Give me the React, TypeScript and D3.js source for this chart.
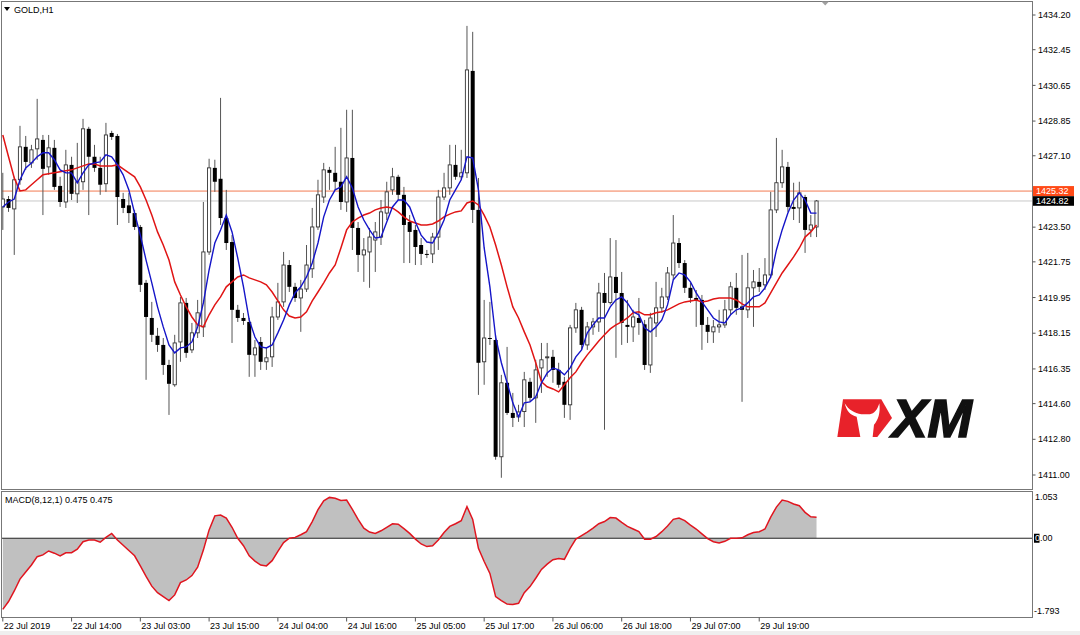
import React from 'react';
import * as d3 from 'd3';

// ---------- data ----------
const symbolLabel = 'GOLD,H1';
const macdLabel = 'MACD(8,12,1) 0.475 0.475';

const open = [
  1424.52, 1424.92, 1424.42, 1425.89, 1427.55, 1426.74, 1427.45, 1427.90, 1426.54, 1427.50,
  1425.58, 1424.77, 1426.64, 1425.18, 1425.79, 1428.46, 1427.05, 1426.49, 1425.69, 1428.25,
  1428.10, 1424.92, 1424.60, 1424.21, 1423.51, 1420.69, 1418.92, 1418.02, 1417.56, 1416.55,
  1415.55, 1417.71, 1419.68, 1417.31, 1418.17, 1418.47, 1422.25, 1426.49, 1425.94, 1423.96,
  1422.75, 1419.33, 1418.92, 1418.72, 1417.06, 1417.71, 1416.71, 1416.96, 1418.97, 1419.73,
  1421.59, 1420.49, 1419.93, 1420.38, 1421.40, 1423.51, 1425.02, 1426.39, 1426.24, 1425.79,
  1424.77, 1426.99, 1423.46, 1422.10, 1422.25, 1422.85, 1423.00, 1424.21, 1425.38, 1426.04,
  1425.13, 1423.76, 1423.36, 1422.60, 1422.15, 1422.15, 1423.00, 1425.02, 1425.48, 1426.64,
  1426.04, 1426.24, 1431.38, 1424.37, 1416.71, 1417.91, 1417.81, 1411.92, 1415.65, 1414.13,
  1413.93, 1414.20, 1415.70, 1414.89, 1416.40, 1416.91, 1416.96, 1416.30, 1415.70, 1414.54,
  1418.42, 1419.33, 1417.56, 1418.47, 1418.72, 1420.18, 1419.70, 1420.99, 1420.18, 1418.57,
  1418.47, 1418.92, 1418.60, 1416.55, 1418.67, 1419.43, 1419.98, 1421.09, 1422.70, 1421.69,
  1420.44, 1419.93, 1419.83, 1418.57, 1418.22, 1418.47, 1418.57, 1419.33, 1420.44, 1419.50,
  1419.33, 1420.44, 1420.74, 1420.59, 1421.09, 1424.37, 1425.74, 1426.54, 1424.52, 1424.47,
  1425.02, 1423.36, 1423.51,
];

const high = [
  1426.24, 1425.07, 1426.04, 1428.61, 1428.10, 1427.65, 1429.97, 1428.15, 1428.15, 1427.90,
  1426.04, 1427.40, 1427.05, 1427.75, 1428.96, 1428.56, 1427.65, 1427.05, 1428.76, 1428.36,
  1428.20, 1425.23, 1425.23, 1424.37, 1423.61, 1420.84, 1419.73, 1418.42, 1417.91, 1416.81,
  1418.07, 1419.98, 1419.93, 1418.67, 1419.83, 1424.77, 1426.95, 1426.90, 1430.02, 1425.38,
  1423.10, 1419.58, 1419.17, 1418.92, 1417.81, 1417.96, 1417.41, 1419.48, 1420.69, 1422.25,
  1421.84, 1420.69, 1420.84, 1422.60, 1424.47, 1425.89, 1426.74, 1426.54, 1427.55, 1428.51,
  1429.42, 1429.42, 1423.76, 1422.95, 1423.46, 1423.76, 1424.87, 1425.79, 1426.49, 1426.14,
  1425.53, 1424.11, 1423.61, 1422.95, 1422.35, 1423.21, 1425.38, 1426.24, 1427.65, 1427.65,
  1427.40, 1433.65, 1433.35, 1425.98, 1419.83, 1419.73, 1418.07, 1416.05, 1417.46, 1415.14,
  1414.54, 1416.20, 1415.90, 1416.81, 1417.66, 1417.66, 1417.31, 1416.66, 1415.95, 1418.57,
  1419.68, 1419.48, 1418.72, 1418.92, 1420.69, 1421.19, 1422.95, 1422.85, 1421.24, 1419.83,
  1419.33, 1419.93, 1418.82, 1419.18, 1420.74, 1420.44, 1421.49, 1424.11, 1422.95, 1421.84,
  1420.69, 1420.33, 1420.08, 1418.97, 1418.82, 1419.33, 1419.83, 1420.74, 1421.19, 1422.10,
  1422.20, 1421.34, 1421.44, 1421.94, 1425.28, 1428.00, 1427.40, 1426.79, 1425.74, 1425.79,
  1425.13, 1424.11, 1424.87,
];

const low = [
  1423.36, 1424.27, 1422.10, 1425.64, 1426.39, 1426.49, 1426.90, 1424.11, 1426.14, 1425.38,
  1424.52, 1424.47, 1424.87, 1424.72, 1425.38, 1424.11, 1426.29, 1425.13, 1425.28, 1427.90,
  1423.61, 1424.21, 1423.71, 1423.36, 1420.23, 1415.80, 1417.71, 1417.21, 1416.05, 1414.03,
  1415.45, 1416.71, 1416.91, 1417.15, 1417.91, 1417.96, 1422.10, 1425.28, 1423.61, 1422.35,
  1417.66, 1418.72, 1418.57, 1415.95, 1415.95, 1416.30, 1416.30, 1416.45, 1418.82, 1419.48,
  1420.23, 1419.73, 1418.22, 1420.23, 1420.94, 1423.36, 1424.72, 1425.38, 1425.38, 1424.37,
  1424.27, 1422.35, 1421.24, 1420.74, 1420.44, 1421.24, 1422.60, 1423.86, 1425.13, 1424.87,
  1421.69, 1421.69, 1421.59, 1421.59, 1421.94, 1421.69, 1422.35, 1424.87, 1425.13, 1425.89,
  1425.89, 1425.98, 1423.71, 1415.04, 1415.55, 1417.56, 1411.77, 1410.86, 1414.03, 1413.42,
  1413.68, 1413.42, 1414.69, 1413.63, 1415.14, 1415.95, 1415.65, 1415.40, 1413.88, 1413.78,
  1418.17, 1417.31, 1417.31, 1418.07, 1418.22, 1413.28, 1419.60, 1416.91, 1417.56, 1417.66,
  1417.71, 1418.07, 1416.30, 1416.15, 1417.96, 1419.18, 1419.83, 1420.84, 1421.44, 1420.18,
  1419.68, 1418.47, 1417.31, 1417.66, 1417.66, 1418.17, 1418.42, 1419.08, 1419.08, 1414.69,
  1418.92, 1418.47, 1420.23, 1420.33, 1420.94, 1424.21, 1425.48, 1424.27, 1423.86, 1423.71,
  1422.20, 1423.00, 1423.00,
];

const close = [
  1424.92, 1424.47, 1425.89, 1427.55, 1426.79, 1427.40, 1427.95, 1426.44, 1427.50, 1425.53,
  1424.77, 1426.64, 1425.18, 1425.79, 1428.46, 1427.05, 1426.49, 1425.64, 1428.15, 1428.05,
  1425.02, 1424.47, 1424.21, 1423.51, 1420.59, 1418.97, 1418.07, 1417.56, 1416.55, 1415.60,
  1417.66, 1419.68, 1417.16, 1418.17, 1419.18, 1422.25, 1426.49, 1425.79, 1423.96, 1422.70,
  1419.33, 1418.92, 1418.77, 1417.06, 1417.41, 1416.71, 1416.91, 1418.97, 1419.73, 1421.59,
  1420.49, 1419.93, 1420.38, 1421.59, 1423.51, 1425.13, 1426.39, 1426.24, 1425.79, 1424.77,
  1426.99, 1423.46, 1422.10, 1422.35, 1423.00, 1423.26, 1424.27, 1425.28, 1426.04, 1425.13,
  1423.61, 1423.26, 1422.50, 1422.15, 1422.10, 1423.00, 1425.02, 1425.48, 1426.64, 1426.04,
  1426.24, 1431.43, 1424.37, 1416.66, 1417.91, 1417.86, 1411.92, 1415.65, 1414.13, 1413.88,
  1414.18, 1415.80, 1414.89, 1416.30, 1416.81, 1416.96, 1416.30, 1415.55, 1414.54, 1418.42,
  1419.33, 1417.56, 1418.47, 1418.72, 1420.18, 1419.68, 1420.99, 1420.18, 1418.67, 1418.47,
  1418.97, 1418.67, 1416.55, 1418.92, 1419.43, 1419.98, 1421.19, 1422.70, 1421.69, 1420.44,
  1419.93, 1419.83, 1418.57, 1418.22, 1418.47, 1418.57, 1419.33, 1420.49, 1419.43, 1419.33,
  1420.44, 1420.74, 1420.49, 1421.09, 1424.37, 1425.74, 1426.54, 1424.52, 1424.42, 1425.23,
  1423.36, 1423.61, 1424.82,
];

const fastMA = [
  1424.52, 1424.77, 1424.92, 1425.89, 1426.49, 1426.74, 1427.05, 1427.25, 1427.25, 1426.90,
  1426.39, 1426.24, 1426.24, 1425.74, 1426.24, 1426.64, 1426.74, 1426.79, 1427.15, 1427.05,
  1426.64, 1426.14, 1425.38, 1424.21, 1423.10, 1421.84, 1420.69, 1419.48, 1418.47, 1417.56,
  1417.16, 1417.41, 1417.46, 1417.71, 1418.47, 1419.68, 1421.34, 1422.70, 1423.36, 1424.11,
  1423.26, 1421.94, 1420.49, 1418.82, 1417.96, 1417.46, 1417.41, 1417.56, 1418.17, 1418.82,
  1419.58, 1420.18, 1420.49, 1420.99, 1421.69, 1422.70, 1424.02, 1424.87, 1425.38, 1425.53,
  1426.04, 1425.48, 1424.52, 1423.86, 1423.36, 1422.95, 1423.00, 1423.76, 1424.52, 1424.87,
  1424.87, 1424.52, 1423.76, 1423.10, 1422.75, 1422.70, 1423.21, 1423.86, 1424.87, 1425.38,
  1425.89, 1427.05, 1426.99, 1425.38, 1422.45, 1420.49, 1417.96, 1416.66, 1415.65, 1414.64,
  1413.93, 1414.64, 1414.69, 1414.94, 1415.65, 1416.15, 1416.40, 1416.30, 1416.05, 1416.40,
  1416.96, 1417.31, 1418.17, 1418.57, 1418.92, 1418.92, 1419.48, 1419.83, 1419.98, 1419.68,
  1419.23, 1419.08, 1418.42, 1418.22, 1418.47, 1418.82, 1419.58, 1420.84, 1421.19, 1421.09,
  1420.74, 1420.18, 1419.73, 1419.33, 1418.92, 1418.72, 1418.67, 1419.08, 1419.33, 1419.43,
  1419.68, 1419.98, 1420.08, 1420.44, 1420.99, 1422.35, 1423.36, 1424.21, 1424.87, 1425.23,
  1424.87, 1424.21, 1424.21,
];

const slowMA = [
  1428.15, 1427.05, 1425.98, 1425.33, 1425.38, 1425.64, 1425.89, 1426.14, 1426.19, 1426.24,
  1426.29, 1426.34, 1426.39, 1426.49, 1426.59, 1426.69, 1426.69, 1426.59, 1426.59, 1426.59,
  1426.64, 1426.44, 1426.24, 1426.04, 1425.53, 1424.87, 1424.11, 1423.26, 1422.60, 1421.84,
  1420.74, 1420.08, 1419.48, 1418.97, 1418.57, 1418.47, 1419.08, 1419.58, 1419.98, 1420.49,
  1420.74, 1420.99, 1421.09, 1420.94, 1420.84, 1420.74, 1420.59, 1420.23, 1419.78, 1419.33,
  1419.02, 1418.92, 1418.97, 1419.23, 1419.78, 1420.23, 1420.69, 1421.19, 1421.59, 1422.45,
  1423.36, 1423.76, 1423.96, 1424.11, 1424.21, 1424.37, 1424.47, 1424.52, 1424.47, 1424.27,
  1424.02, 1423.81, 1423.71, 1423.61, 1423.61, 1423.66, 1423.81, 1424.02, 1424.16, 1424.27,
  1424.32, 1424.72, 1424.82, 1424.62, 1424.11, 1423.51, 1422.60, 1421.59, 1420.49, 1419.48,
  1418.92, 1418.22, 1417.56, 1416.66, 1415.70, 1415.45, 1415.34, 1415.19, 1415.55, 1415.90,
  1416.20, 1416.66, 1417.06, 1417.41, 1417.76, 1418.07, 1418.37, 1418.57, 1418.72, 1418.92,
  1419.18, 1419.23, 1419.08, 1419.08, 1419.18, 1419.23, 1419.33, 1419.48, 1419.63, 1419.73,
  1419.78, 1419.83, 1419.73, 1419.78, 1419.88, 1419.93, 1419.93, 1419.93, 1419.83, 1419.63,
  1419.48, 1419.48, 1419.48, 1419.68, 1420.18, 1420.69, 1421.19, 1421.59, 1422.00, 1422.45,
  1423.00, 1423.26, 1423.61,
];

const macd = [
  -1.62, -1.44, -1.20, -0.93, -0.77, -0.61, -0.42, -0.38, -0.29, -0.34,
  -0.40, -0.33, -0.33, -0.25, -0.08, -0.04, -0.04, -0.09, 0.02, 0.11,
  -0.04, -0.16, -0.28, -0.40, -0.63, -0.87, -1.09, -1.24, -1.33, -1.42,
  -1.29, -1.01, -0.95, -0.85, -0.66, -0.27, 0.19, 0.51, 0.53, 0.46,
  0.25, 0.00, -0.17, -0.40, -0.52, -0.61, -0.63, -0.51, -0.30, -0.10,
  0.00, 0.02, 0.08, 0.15, 0.38, 0.65, 0.85, 0.93, 0.91, 0.86,
  0.87, 0.66, 0.43, 0.23, 0.14, 0.11, 0.17, 0.25, 0.33, 0.32,
  0.22, 0.11, -0.02, -0.13, -0.19, -0.17, -0.04, 0.13, 0.27, 0.33,
  0.40, 0.72, 0.43, -0.23, -0.53, -0.80, -1.33, -1.42, -1.50, -1.51,
  -1.48, -1.24, -1.10, -0.91, -0.71, -0.59, -0.49, -0.46, -0.48, -0.23,
  -0.02, 0.06, 0.14, 0.23, 0.33, 0.38, 0.47, 0.46, 0.36, 0.27,
  0.21, 0.15, -0.02, -0.02, 0.04, 0.15, 0.28, 0.43, 0.46, 0.40,
  0.30, 0.21, 0.10, -0.01, -0.08, -0.11, -0.07, 0.00, 0.00, 0.01,
  0.08, 0.13, 0.15, 0.21, 0.48, 0.71, 0.87, 0.84, 0.78, 0.74,
  0.59, 0.49, 0.48,
];

const timeTickBars = [0, 12, 24, 36, 48, 60, 72, 84, 96, 108, 120, 132];
const timeTickLabels = [
  '22 Jul 2019', '22 Jul 14:00', '23 Jul 03:00', '23 Jul 15:00', '24 Jul 04:00', '24 Jul 16:00',
  '25 Jul 05:00', '25 Jul 17:00', '26 Jul 06:00', '26 Jul 18:00', '29 Jul 07:00', '29 Jul 19:00',
];

const priceTicks = [1434.2, 1432.45, 1430.65, 1428.85, 1427.1, 1423.5, 1421.75, 1419.95, 1418.15, 1416.35, 1414.6, 1412.8, 1411.0];
const askPrice = 1425.32;
const bidPrice = 1424.82;
const macdTicks = [1.053, 0, -1.793];
const macdTickLabels = ['1.053', '0.00', '-1.793'];

// ---------- component ----------
const FONT = '"Liberation Sans", Arial, sans-serif';
const BORDER = '#777777';

export default function App() {
  const L = 1.5, R = 1032.5, mainTop = 1.5, mainBottom = 489.5, macdTop = 491.5, macdBottom = 617.5;

  const x = d3.scaleLinear().domain([0, 179.6]).range([2.8, 1032]);
  const y = d3.scaleLinear().domain([1411.0, 1434.2]).range([475, 15]);
  const ym = d3.scaleLinear().domain([-1.793, 1.053]).range([617, 492]);
  const fmt = d3.format('.2f');

  const idx = d3.range(open.length);
  const mainLine = d3.line<number>().x((_, i) => x(i)).y((d) => y(d));
  const macdLine = d3.line<number>().x((_, i) => x(i)).y((d) => ym(d));
  const macdArea = d3.area<number>().x((_, i) => x(i)).y0(ym(0)).y1((d) => ym(d));

  return (
    <svg
      width={1080}
      height={635}
      style={{ position: 'absolute', left: 0, top: 0, display: 'block', background: '#ffffff' }}
      fontFamily={FONT}
    >
      <defs>
        <clipPath id="mainClip">
          <rect x={L} y={mainTop} width={R - L} height={mainBottom - mainTop} />
        </clipPath>
        <clipPath id="macdClip">
          <rect x={L} y={macdTop} width={R - L} height={macdBottom - macdTop} />
        </clipPath>
      </defs>

      <rect x={0} y={0} width={1080} height={635} fill="#ffffff" />
      <rect x={0} y={631} width={1080} height={4} fill="#efefef" />

      {/* ask / bid lines */}
      <line x1={L} x2={R} y1={y(askPrice)} y2={y(askPrice)} stroke="#f27a52" strokeWidth={1} />
      <line x1={L} x2={R} y1={y(bidPrice)} y2={y(bidPrice)} stroke="#c8c8c8" strokeWidth={1} />

      {/* logo */}
      <g transform="translate(828,392) scale(0.3333)">
        <polygon points="45,22 160,22 192,78 148,135 28,135" fill="#e8222a" />
        <path
          d="M50,34 C56,58 68,70 86,74 L97,135 L134,135 L138,98 C150,86 158,62 154,34 C147,56 139,64 126,67 L100,67 C80,64 62,54 50,34 Z"
          fill="#ffffff"
        />
      </g>
      <text
        x={892}
        y={437}
        fontFamily={FONT}
        fontWeight="bold"
        fontStyle="italic"
        fontSize={53}
        fill="#111111"
        stroke="#111111"
        strokeWidth={1.6}
        textLength={80}
        lengthAdjust="spacingAndGlyphs"
      >
        XM
      </text>

      {/* candles */}
      <g clipPath="url(#mainClip)">
        {idx.map((i) => {
          const cx = x(i);
          const o = open[i], c = close[i];
          const up = c >= o;
          const yTop = y(Math.max(o, c));
          const yBot = y(Math.min(o, c));
          return (
            <g key={i}>
              <line x1={cx} x2={cx} y1={y(high[i])} y2={y(low[i])} stroke="#555555" strokeWidth={1} />
              {up ? (
                <rect
                  x={cx - 1.6}
                  y={yTop}
                  width={3.2}
                  height={Math.max(0.8, yBot - yTop)}
                  fill="#ffffff"
                  stroke="#333333"
                  strokeWidth={0.9}
                />
              ) : (
                <rect x={cx - 2} y={yTop} width={4} height={Math.max(1, yBot - yTop)} fill="#000000" />
              )}
            </g>
          );
        })}
        <path d={mainLine(slowMA) || ''} fill="none" stroke="#e01515" strokeWidth={1.5} />
        <path d={mainLine(fastMA) || ''} fill="none" stroke="#1515c8" strokeWidth={1.4} />
      </g>

      {/* MACD panel */}
      <g clipPath="url(#macdClip)">
        <path d={macdArea(macd) || ''} fill="#c0c0c0" />
        <line x1={L} x2={R} y1={ym(0)} y2={ym(0)} stroke="#222222" strokeWidth={1} />
        <path d={macdLine(macd) || ''} fill="none" stroke="#e0151f" strokeWidth={1.5} />
      </g>

      {/* frames */}
      <rect x={L} y={mainTop} width={R - L} height={mainBottom - mainTop} fill="none" stroke={BORDER} strokeWidth={1} />
      <rect x={L} y={macdTop} width={R - L} height={macdBottom - macdTop} fill="none" stroke={BORDER} strokeWidth={1} />

      {/* chart shift marker */}
      <polygon points="821.5,1.5 829,1.5 825.2,5.5" fill="#a0a0a0" />

      {/* titles */}
      <polygon points="4,7 10,7 7,11" fill="#000000" />
      <text x={14} y={12.5} fontSize={9} fill="#000000">{symbolLabel}</text>
      <text x={5} y={503} fontSize={9} fill="#000000">{macdLabel}</text>

      {/* price axis */}
      {priceTicks.map((p) => (
        <g key={p}>
          <line x1={R} x2={R + 3} y1={y(p)} y2={y(p)} stroke="#555555" strokeWidth={1} />
          <text x={1038} y={y(p)} dy="0.35em" fontSize={9} fill="#000000">
            {fmt(p)}
          </text>
        </g>
      ))}
      <rect x={1033} y={y(askPrice) - 5} width={41} height={10} fill="#ff4a17" />
      <text x={1036} y={y(askPrice)} dy="0.35em" fontSize={9} fill="#ffffff">{fmt(askPrice)}</text>
      <rect x={1033} y={y(bidPrice) - 4.8} width={41} height={9.6} fill="#000000" />
      <text x={1036} y={y(bidPrice)} dy="0.35em" fontSize={9} fill="#ffffff">{fmt(bidPrice)}</text>

      {/* MACD axis */}
      {macdTicks.map((v, k) => {
        const ty = k === 0 ? ym(v) + 5 : k === 2 ? ym(v) - 6 : ym(v);
        return (
          <g key={k}>
            {k === 1 && <rect x={1034} y={ym(v) - 4.5} width={5.5} height={9} fill="#000000" />}
            <text x={k === 2 ? 1034 : 1035} y={ty} dy="0.35em" fontSize={9} fill="#000000">
              {k === 1 ? (
                <>
                  <tspan fill="#ffffff">{macdTickLabels[k].slice(0, 1)}</tspan>
                  <tspan>{macdTickLabels[k].slice(1)}</tspan>
                </>
              ) : (
                macdTickLabels[k]
              )}
            </text>
          </g>
        );
      })}

      {/* time axis */}
      {timeTickBars.map((b, k) => (
        <g key={b}>
          <line x1={x(b)} x2={x(b)} y1={macdBottom} y2={macdBottom + 4} stroke="#555555" strokeWidth={1} />
          <text x={x(b) + 1} y={629} fontSize={9} fill="#000000">
            {timeTickLabels[k]}
          </text>
        </g>
      ))}
    </svg>
  );
}
